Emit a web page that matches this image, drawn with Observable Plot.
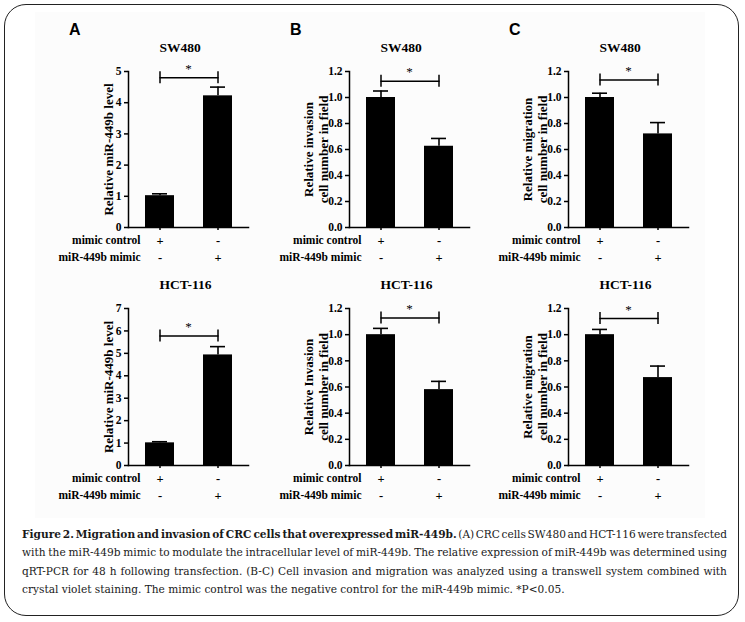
<!DOCTYPE html>
<html>
<head>
<meta charset="utf-8">
<script src="https://cdn.jsdelivr.net/npm/d3@7"></script>
<script src="https://cdn.jsdelivr.net/npm/@observablehq/plot@0.6"></script>
<style>
html, body { margin:0; padding:0; background:#fff; width:745px; height:622px; overflow:hidden; }
body { position:relative; }
#frame { position:absolute; left:4px; top:4px; width:733px; height:610px; border:1.5px solid #222; border-radius:22px; }
#bg { position:absolute; left:35px; top:12px; width:670px; height:506px; background:#fcfcfc; }
.panel { position:absolute; }
.plabel { position:absolute; font-family:"Liberation Sans", Arial, sans-serif; font-weight:bold; font-size:16px; line-height:16px; color:#000; }
#caption { position:absolute; left:22px; top:525px; width:705px; font-family:"DejaVu Serif", serif; font-size:10px; color:#1a1a1a; line-height:18.4px; }
#caption div { height:18.4px; white-space:nowrap; }
#caption span.l { display:inline-block; white-space:nowrap; }
</style>
</head>
<body>
<div id="bg"></div>
<div id="frame"></div>
<div id="charts"></div>
<div id="caption">
<div><span class="l"><b>Figure 2. Migration and invasion of CRC cells that overexpressed miR-449b.</b> (A) CRC cells SW480 and HCT-116 were transfected</span></div>
<div><span class="l">with the miR-449b mimic to modulate the intracellular level of miR-449b. The relative expression of miR-449b was determined using</span></div>
<div><span class="l">qRT-PCR for 48 h following transfection. (B-C) Cell invasion and migration was analyzed using a transwell system combined with</span></div>
<div><span class="l">crystal violet staining. The mimic control was the negative control for the miR-449b mimic. *P&lt;0.05.</span></div>
</div>
<script>
// ---- data ----
const groups = ["control", "mimic"];
const controlSigns = ["+", "-"];
const mimicSigns = ["-", "+"];
const rowLabels = ["mimic control", "miR-449b mimic"];
const panelLetters = ["A", "B", "C"];
const cellLines = ["SW480", "HCT-116"];
const sw480YLabels = [["Relative miR-449b level"], ["Relative invasion", "cell number in field"], ["Relative migration", "cell number in field"]];
const hct116YLabels = [["Relative miR-449b level"], ["Relative Invasion", "cell number in field"], ["Relative migration", "cell number in field"]];
const sw480Means = [[1.02, 4.22], [1.0, 0.625], [1.0, 0.72]];
const sw480Errors = [[0.06, 0.28], [0.05, 0.06], [0.033, 0.087]];
const hct116Means = [[1.01, 4.93], [1.0, 0.58], [1.0, 0.672]];
const hct116Errors = [[0.05, 0.37], [0.048, 0.063], [0.04, 0.088]];
const sw480YMax = [5, 1.2, 1.2];
const hct116YMax = [7, 1.2, 1.2];
const sw480Ticks = [[0, 1, 2, 3, 4, 5], [0, 0.2, 0.4, 0.6, 0.8, 1.0, 1.2], [0, 0.2, 0.4, 0.6, 0.8, 1.0, 1.2]];
const hct116Ticks = [[0, 1, 2, 3, 4, 5, 6, 7], [0, 0.2, 0.4, 0.6, 0.8, 1.0, 1.2], [0, 0.2, 0.4, 0.6, 0.8, 1.0, 1.2]];
const sw480Brackets = [4.8, 1.125, 1.135];
const hct116Brackets = [5.77, 1.128, 1.123];
const significance = "*";

// ---- layout (styles only) ----
const axisLeft = [128, 349, 568];
const rowTop = [30, 267];
const plotHeights = [156, 157];
const marginTop = 41, marginBottom = 40, marginLeft = 100, plotWidth = 120;

const rows = [
  {line: cellLines[0], means: sw480Means, errs: sw480Errors, yMax: sw480YMax, ticks: sw480Ticks, brackets: sw480Brackets, labels: sw480YLabels},
  {line: cellLines[1], means: hct116Means, errs: hct116Errors, yMax: hct116YMax, ticks: hct116Ticks, brackets: hct116Brackets, labels: hct116YLabels}
];

const container = document.getElementById("charts");

rows.forEach((row, r) => {
  for (let c = 0; c < 3; c++) {
    const data = groups.map((g, i) => ({
      g, v: row.means[c][i], e: row.means[c][i] + row.errs[c][i],
      cs: controlSigns[i], ms: mimicSigns[i]
    }));
    const yMax = row.yMax[c];
    const pxPerUnit = plotHeights[r] / yMax;
    const half = 6 / pxPerUnit;
    const br = row.brackets[c];
    const bracket = groups.map(g => ({g, y: br, y1: br - half, y2: br + half}));
    const fmt = yMax > 2 ? (d => d3.format("d")(d)) : (d => d3.format(".1f")(d));
    const labelText = row.labels[c].join("\n");
    const labelOffset = row.labels[c].length > 1 ? 34 : 20;

    const chart = Plot.plot({
      width: marginLeft + plotWidth,
      height: marginTop + plotHeights[r] + marginBottom,
      marginLeft, marginRight: 0, marginTop, marginBottom,
      style: {fontFamily: "'Liberation Serif', 'Times New Roman', serif", fontWeight: "bold", color: "#000", background: "transparent", overflow: "visible"},
      x: {type: "band", domain: groups, paddingInner: 0.5085, paddingOuter: 0.2712},
      y: {domain: [0, yMax]},
      marks: [
        Plot.barY(data, {x: "g", y: "v", fill: "#000"}),
        Plot.ruleX(data, {x: "g", y1: "v", y2: "e", stroke: "#000", strokeWidth: 1.6}),
        Plot.tickY(data, {x: "g", y: "e", stroke: "#000", strokeWidth: 1.6, insetLeft: 7, insetRight: 7}),
        Plot.frame({anchor: "left", stroke: "#000", strokeWidth: 1.5}),
        Plot.frame({anchor: "bottom", stroke: "#000", strokeWidth: 1.5}),
        Plot.axisY({ticks: row.ticks[c], tickFormat: fmt, tickSize: 4, tickPadding: 3, fontSize: 11.5, strokeWidth: 1.5, label: null}),
        Plot.axisX({tickSize: 3, tickFormat: () => "", strokeWidth: 1.5, label: null}),
        Plot.text(data, {x: "g", text: "cs", frameAnchor: "bottom", dy: 13, lineAnchor: "middle", fontSize: 12.5}),
        Plot.text(data, {x: "g", text: "ms", frameAnchor: "bottom", dy: 30, lineAnchor: "middle", fontSize: 12.5}),
        Plot.text([rowLabels[0]], {text: d => d, frameAnchor: "bottom-left", dx: 12, dy: 13, textAnchor: "end", lineAnchor: "middle", fontSize: 11.5}),
        Plot.text([rowLabels[1]], {text: d => d, frameAnchor: "bottom-left", dx: 12, dy: 30, textAnchor: "end", lineAnchor: "middle", fontSize: 11.5}),
        Plot.text([labelText], {text: d => d, frameAnchor: "left", rotate: -90, dx: -labelOffset, textAnchor: "middle", lineAnchor: "middle", fontSize: 13, lineHeight: 1.18}),
        Plot.text([row.line], {text: d => d, frameAnchor: "top-left", dx: 31, dy: -24, textAnchor: "start", lineAnchor: "middle", fontSize: 13.5}),
        Plot.line(bracket, {x: "g", y: "y", stroke: "#000", strokeWidth: 1.5}),
        Plot.ruleX(bracket, {x: "g", y1: "y1", y2: "y2", stroke: "#000", strokeWidth: 1.5}),
        Plot.text([br], {y: d => d, text: () => significance, dy: -9, fontSize: 13, fontWeight: "normal"})
      ]
    });
    const div = document.createElement("div");
    div.className = "panel";
    div.style.left = (axisLeft[c] - marginLeft) + "px";
    div.style.top = rowTop[r] + "px";
    div.appendChild(chart);
    container.appendChild(div);

    if (r === 0) {
      const lab = document.createElement("div");
      lab.className = "plabel";
      lab.textContent = panelLetters[c];
      lab.style.left = (axisLeft[c] - 59) + "px";
      lab.style.top = "22px";
      container.appendChild(lab);
    }
  }
});

// ---- caption fitting: last line width ~543px, other lines justified to 705px ----
(function fitCaption() {
  const cap = document.getElementById("caption");
  const spans = cap.querySelectorAll("span.l");
  const last = spans[spans.length - 1];
  const w0 = last.getBoundingClientRect().width;
  const fs = 10 * 543 / w0;
  cap.style.fontSize = fs.toFixed(2) + "px";
  const full = 705;
  spans.forEach((s, i) => {
    if (i === spans.length - 1) return;
    const w = s.getBoundingClientRect().width;
    const n = (s.textContent.match(/ /g) || []).length;
    s.style.wordSpacing = ((full - w) / n).toFixed(2) + "px";
  });
})();
</script>
</body>
</html>
